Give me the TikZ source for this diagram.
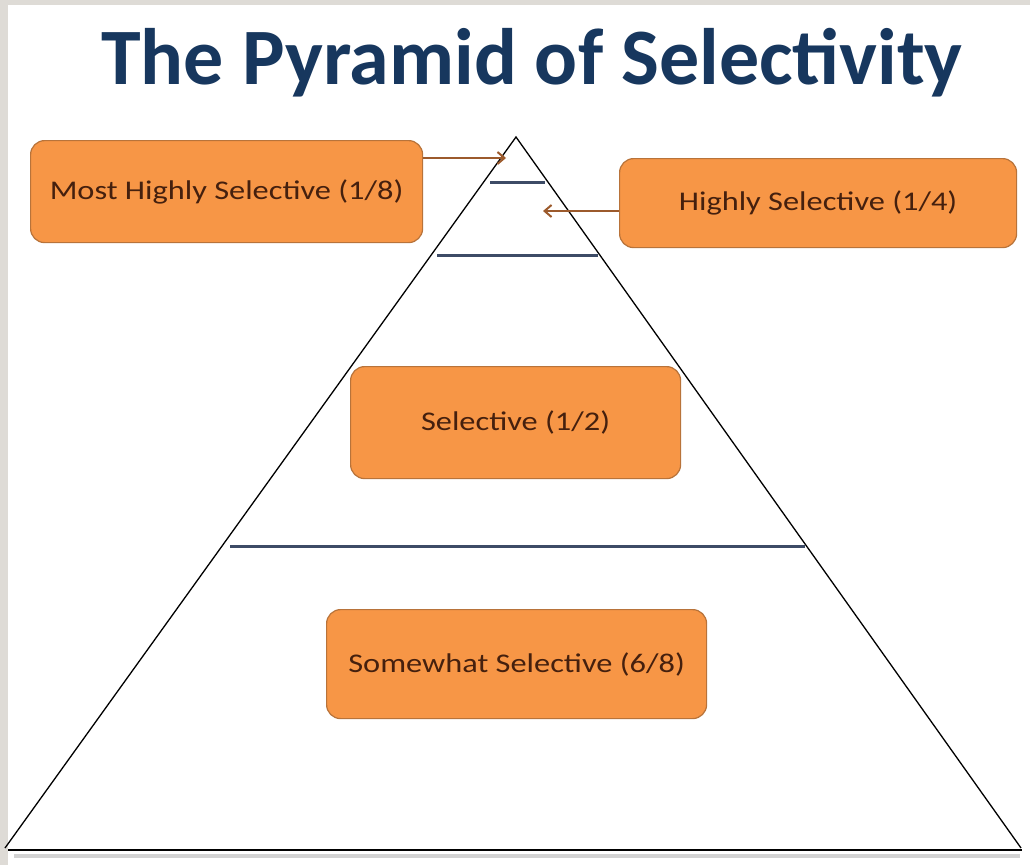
\documentclass[tikz,border=0pt]{standalone}
\usepackage{fontspec}
\setmainfont{Carlito}
\usetikzlibrary{arrows.meta}
\definecolor{bggrey}{HTML}{DEDBD6}
\definecolor{titleblue}{HTML}{17375E}
\definecolor{boxfill}{HTML}{F79646}
\definecolor{boxline}{HTML}{B8733A}
\definecolor{boxtext}{HTML}{45200E}
\definecolor{arrowbrown}{HTML}{9C5A2C}
\definecolor{tierline}{HTML}{3D4B66}
\newcommand{\wide}[1]{\scalebox{1.2}[1.0]{#1}}
\tikzset{
  levelbox/.style={draw=boxline, line width=1.2pt, fill=boxfill, rounded corners=14pt,
    text=boxtext, font=\fontsize{27}{31}\selectfont, anchor=north west, inner sep=0pt},
  tier/.style={draw=tierline, line width=3pt},
  pointer/.style={draw=arrowbrown, line width=2pt, -{Straight Barb[length=7pt,width=12pt]}},
}
\begin{document}
\begin{tikzpicture}[x=1pt,y=-1pt]
\useasboundingbox (0,0) rectangle (1030,865);
\fill[bggrey] (0,0) rectangle (1030,865);
\fill[white] (8,5) rectangle (1030,865);
% title
\node[text=titleblue, font=\fontsize{80}{96}\bfseries\selectfont] (title) at (532,63) {The Pyramid of Selectivity};
% pyramid
\coordinate (apex) at (516,137);
\coordinate (bl) at (5,848);
\coordinate (br) at (1021,848);
\draw[black!25, line width=4pt, opacity=0.7] (14,856) -- (1020,856);
\draw[black, line width=1.3pt, line join=miter] (bl) -- (apex) -- (br);
\draw[black, line width=2.5pt] (8,850) -- (1022,850);
% tier lines
\draw[tier] (490,182) -- (545,182);
\draw[tier] (437,255) -- (598,255);
\draw[tier] (230,546) -- (805,546);
% boxes
\node[levelbox, minimum width=392pt, minimum height=102pt] (mh) at (30,140) {\wide{Most Highly Selective (1/8)}};
\node[levelbox, minimum width=397pt, minimum height=89pt] (hs) at (619,158) {\wide{Highly Selective (1/4)}};
\node[levelbox, minimum width=330pt, minimum height=112pt] (se) at (350,366) {\wide{Selective (1/2)}};
\node[levelbox, minimum width=380pt, minimum height=109pt] (sw) at (326,609) {\wide{Somewhat Selective (6/8)}};
% arrows
\coordinate (a1) at (506,158);
\coordinate (a2) at (543,211);
\draw[pointer] (mh.east |- a1) -- (a1);
\draw[pointer] (hs.west |- a2) -- (a2);
\end{tikzpicture}
\end{document}
